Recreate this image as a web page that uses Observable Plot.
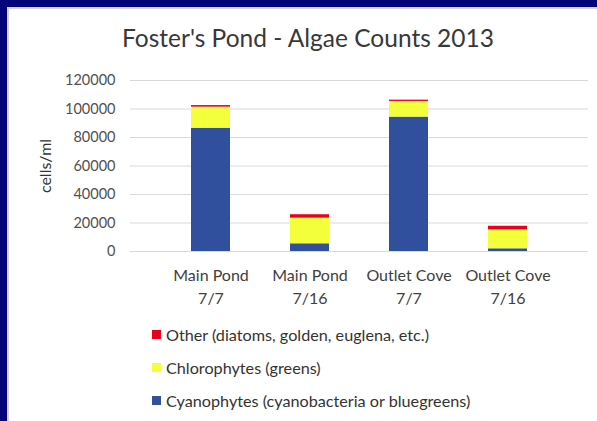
<!DOCTYPE html>
<html>
<head>
<meta charset="utf-8">
<script src="https://cdn.jsdelivr.net/npm/d3@7"></script>
<script src="https://cdn.jsdelivr.net/npm/@observablehq/plot@0.6"></script>
<style>
  html, body { margin: 0; padding: 0; }
  body { width: 597px; height: 421px; background: #05057a; position: relative; overflow: hidden; font-family: Lato, "Open Sans", sans-serif; }
  #panel { position: absolute; left: 7px; top: 7px; right: 0; bottom: 0; background: #fff; border-left: 2px solid #d4d4d8; border-top: 2px solid #d4d4d8; }
  #title { position: absolute; left: 0; width: 616px; top: 23px; text-align: center; font-size: 24.5px; color: #383838; white-space: nowrap; }
  #chart { position: absolute; left: 0; top: 60px; }
  #legend { position: absolute; left: 152px; top: 324px; font-size: 16.2px; color: #333; }
  .item { display: flex; align-items: center; height: 20px; margin-bottom: 13px; }
  .sw { width: 9px; height: 9px; margin-right: 5px; display: inline-block; }
</style>
</head>
<body>
<div id="panel"></div>
<div id="title">Foster's Pond - Algae Counts 2013</div>
<div id="chart"></div>
<div id="legend"></div>
<script>
const categories = ["Main Pond\n7/7", "Main Pond\n7/16", "Outlet Cove\n7/7", "Outlet Cove\n7/16"];
const series = ["Cyanophytes (cyanobacteria or bluegreens)", "Chlorophytes (greens)", "Other (diatoms, golden, euglena, etc.)"];
const cyanophytes = [86500, 5400, 94300, 1900];
const chlorophytes = [14800, 18000, 11000, 13300];
const other = [1100, 2400, 900, 2500];
const yTicks = [0, 20000, 40000, 60000, 80000, 100000, 120000];
const colors = ["#30509e", "#f2ff3a", "#e8001c"];

const values = [cyanophytes, chlorophytes, other];
const data = [];
series.forEach((s, si) => categories.forEach((c, ci) => data.push({category: c, series: s, value: values[si][ci]})));

const plot = Plot.plot({
  width: 597,
  height: 250,
  marginLeft: 130,
  marginRight: 9,
  marginTop: 20,
  marginBottom: 59,
  style: {fontFamily: "Lato, 'Open Sans', sans-serif", background: "transparent", color: "#595959"},
  x: {domain: categories, padding: 0.607, label: null},
  y: {domain: [0, 120000], ticks: yTicks, label: null},
  color: {domain: series, range: colors},
  marks: [
    Plot.gridY(yTicks, {stroke: "#d9d9d9", strokeOpacity: 1, strokeWidth: 1}),
    Plot.axisY(yTicks, {tickSize: 0, tickPadding: 15, fontSize: 14.5, tickFormat: d => String(d), fill: "#505050", label: null}),
    Plot.axisX({tickSize: 0, tickPadding: 14, fontSize: 16, lineHeight: 1.4, fill: "#404040", label: null}),
    Plot.barY(data, Plot.stackY({x: "category", y: "value", fill: "series", order: series})),
    Plot.ruleY([0], {stroke: "#d9d9d9"}),
    Plot.text(["cells/ml"], {frameAnchor: "left", textAnchor: "middle", dx: -85, rotate: -90, fontSize: 16, fill: "#333"})
  ]
});
document.getElementById("chart").appendChild(plot);

const legend = document.getElementById("legend");
[2, 1, 0].forEach(i => {
  const d = document.createElement("div");
  d.className = "item";
  d.innerHTML = `<span class="sw" style="background:${colors[i]}"></span><span>${series[i]}</span>`;
  legend.appendChild(d);
});
</script>
</body>
</html>
